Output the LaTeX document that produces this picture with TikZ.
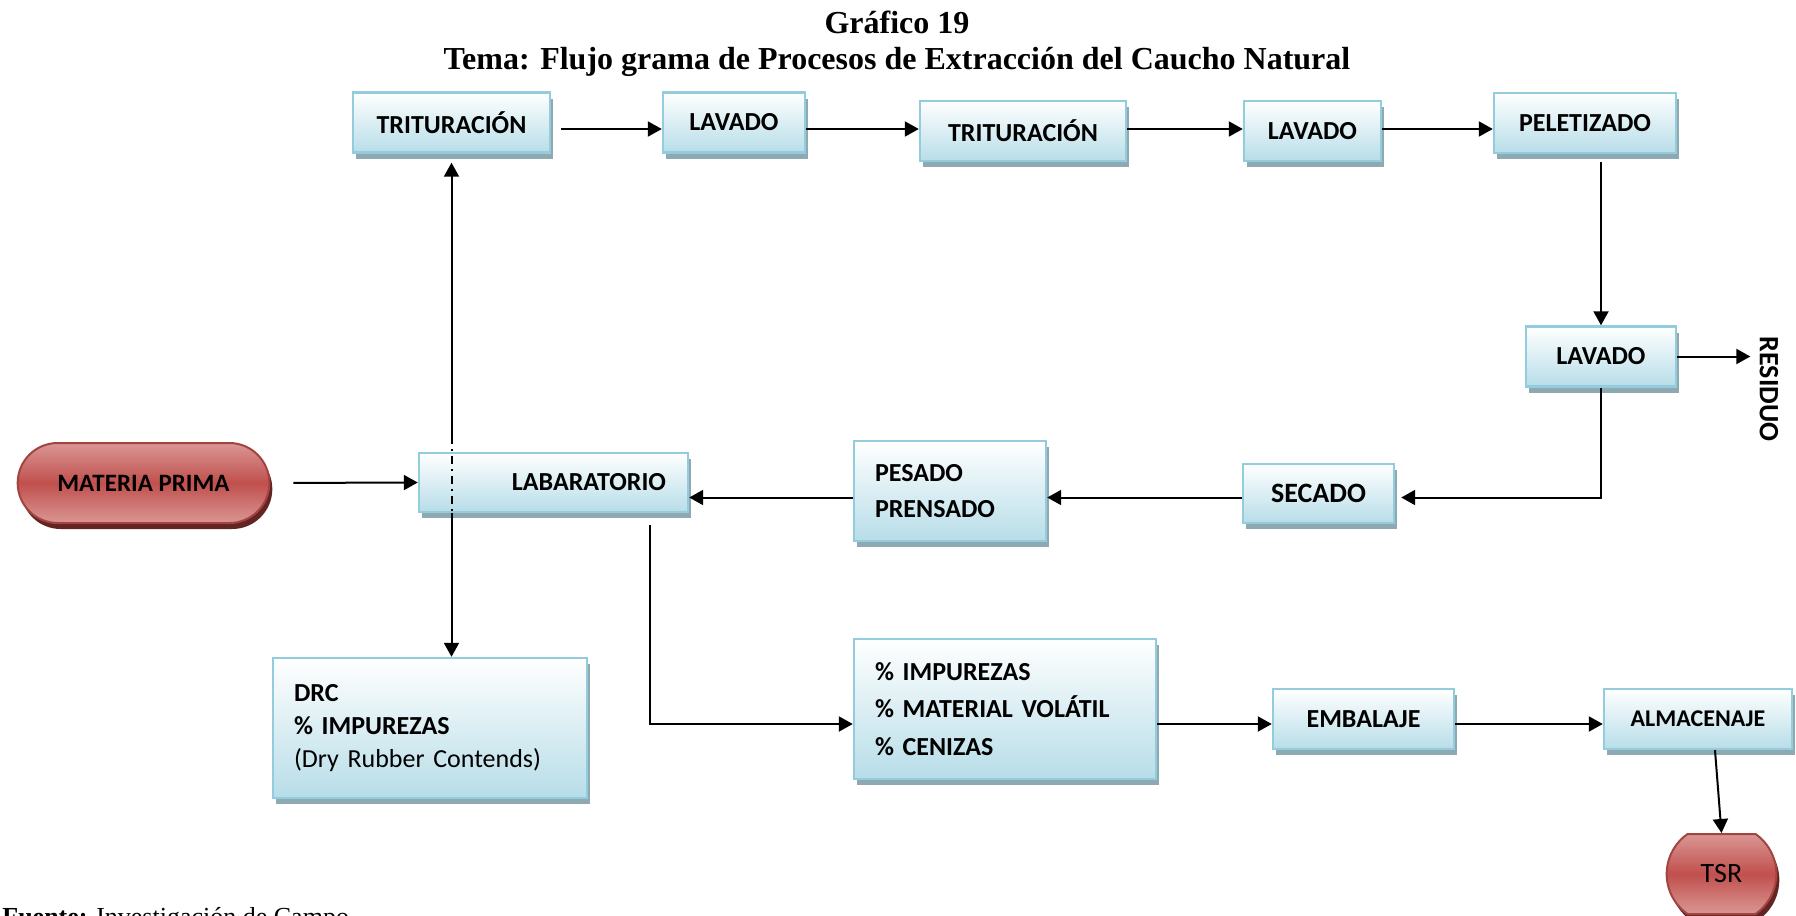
\documentclass[tikz,border=0pt]{standalone}
\usepackage{fontspec}
\setmainfont{Liberation Serif}
\newfontfamily\carlito{Carlito}
\usetikzlibrary{arrows.meta,shadows,shapes.misc}
\definecolor{bordeazul}{HTML}{93CDDD}
\definecolor{fondoazul}{HTML}{B7DDE8}
\definecolor{sombraazul}{HTML}{8FA9B2}
\definecolor{rojo}{HTML}{C0504D}
\definecolor{rojoclaro}{HTML}{DA9694}
\definecolor{sombrarojo}{HTML}{632523}

\begin{document}
\begin{tikzpicture}[x=0.5pt,y=-0.5pt,
   font=\carlito\bfseries\fontsize{13}{18}\selectfont,
   caja/.style={draw=bordeazul,line width=1.2pt,top color=white,bottom color=fondoazul,
      drop shadow={shadow xshift=1.5pt,shadow yshift=-3pt,fill=sombraazul,opacity=1},
      minimum height=30pt,inner sep=0pt},
   cajatexto/.style={caja,align=left,inner xsep=10.5pt},
   terminal/.style={rounded rectangle,draw=rojo!85!black,line width=1pt,
      top color=rojoclaro,bottom color=rojoclaro,middle color=rojo,
      drop shadow={shadow xshift=1.5pt,shadow yshift=-3pt,fill=sombrarojo,opacity=1}},
   titulo/.style={font=\rmfamily\bfseries\fontsize{16}{19}\selectfont,anchor=base},
   flecha/.style={-{Triangle[length=7pt,width=7.5pt]},line width=1pt},
   linea/.style={line width=1pt}]
\useasboundingbox (0,0) rectangle (1796,916);
\node[titulo] (tit1) at (897,33) {Gráfico 19};
\node[titulo] (tit2) at (897,69) {Tema: Flujo grama de Procesos de Extracción del Caucho Natural};
\node[caja,minimum width=98.5pt] (tri1) at (451.5,122.5) {TRITURACIÓN};
\node[caja,minimum width=71pt] (lav1) at (734,122.5) {LAVADO};
\node[caja,minimum width=103pt] (tri2) at (1023,131) {TRITURACIÓN};
\node[caja,minimum width=68.5pt] (lav2) at (1312.5,131) {LAVADO};
\node[caja,minimum width=91pt] (pel) at (1585,123) {PELETIZADO};
\node[caja,minimum width=75pt] (lav3) at (1601,356.5) {LAVADO};
\node[rotate=-90,font=\carlito\bfseries\fontsize{14}{16}\selectfont,inner sep=1pt] (res) at (1769,389) {RESIDUO};
\node[caja,minimum width=75.5pt,minimum height=29.5pt,font=\carlito\bfseries\fontsize{14}{16}\selectfont] (sec) at (1318.5,493.5) {SECADO};
\node[cajatexto,text width=75pt,minimum height=50pt] (pes) at (950,491) {PESADO\\PRENSADO};
\node[caja,align=right,text width=112.5pt,inner xsep=11pt,minimum height=29.5pt] (lab) at (553.5,482.5) {LABARATORIO};
\node[terminal,minimum width=132.5pt,minimum height=40pt,font=\carlito\bfseries\fontsize{12.5}{15}\selectfont] (mat) at (143.5,483) {MATERIA PRIMA};
\node[cajatexto,text width=136pt,minimum height=70pt] (drc) at (430,728) {DRC\\[-1.5pt]\% IMPUREZAS\\[-1.5pt]{\mdseries (Dry Rubber Contends)}};
\node[cajatexto,text width=130pt,minimum height=70pt] (imp) at (1005,709) {\% IMPUREZAS\\[0.75pt]\% MATERIAL VOLÁTIL\\[0.75pt]\% CENIZAS};
\node[caja,minimum width=90.5pt] (emb) at (1363.5,719) {EMBALAJE};
\node[caja,minimum width=94pt,font=\carlito\bfseries\fontsize{12}{15}\selectfont] (alm) at (1698,719) {ALMACENAJE};
\node[terminal,rounded rectangle arc length=110,minimum width=61.5pt,minimum height=40pt,font=\carlito\fontsize{14}{16}\selectfont] (tsr) at (1721.5,874) {TSR};
\node[anchor=base west,font=\rmfamily\fontsize{13}{15}\selectfont,inner sep=0pt] (fuente) at (2,925) {\textbf{Fuente:} Investigación de Campo};
\draw[flecha,shorten <=11.5pt] (mat.east) -- (lab.west);
\draw[flecha,shorten <=5pt] ([yshift=-3.25pt]tri1.east) -- ([yshift=-3.25pt]lav1.west);
\draw[flecha] ([yshift=-3.25pt]lav1.east) -- ([yshift=-3.25pt]lav1.east -| tri2.west);
\draw[flecha] ([yshift=1pt]tri2.east) -- ([yshift=1pt]lav2.west);
\draw[flecha] ([yshift=1pt]lav2.east) -- ([yshift=1pt]lav2.east -| pel.west);
\draw[flecha,shorten <=4pt] (lav3.north |- pel.south) -- (lav3.north);
\draw[flecha,shorten >=3.5pt] (lav3.east) -- (lav3.east -| res.south);
\draw[flecha,shorten >=3pt] (lav3.south) |- ([yshift=-2pt]sec.east);
\draw[flecha] ([yshift=-2pt]sec.west) -- ([yshift=-2pt]sec.west -| pes.east);
\draw[flecha] ([yshift=-2pt]sec.west -| pes.west) -- ([yshift=-2pt]sec.west -| lab.east);
\coordinate (cruce) at ([yshift=8pt]lab.north -| tri1.south);
\draw[flecha,shorten >=4.5pt] (cruce) -- (tri1.south);
\draw[linea,dash pattern=on 4pt off 2.5pt on 1pt off 2.5pt] (cruce) -- (cruce |- lab.south);
\draw[flecha] (cruce |- lab.south) -- (cruce |- drc.north);
\draw[flecha] ([xshift=-19.5pt,yshift=-6pt]lab.south east) |- ([yshift=-7.5pt]imp.west);
\draw[flecha] ([yshift=-7.5pt]imp.east) -- ([yshift=-7.5pt]imp.east -| emb.west);
\draw[flecha] ([yshift=-2.5pt]emb.east) -- ([yshift=-2.5pt]alm.west);
\draw[flecha] ([xshift=8.5pt]alm.south) -- (tsr.north);
\end{tikzpicture}
\end{document}
